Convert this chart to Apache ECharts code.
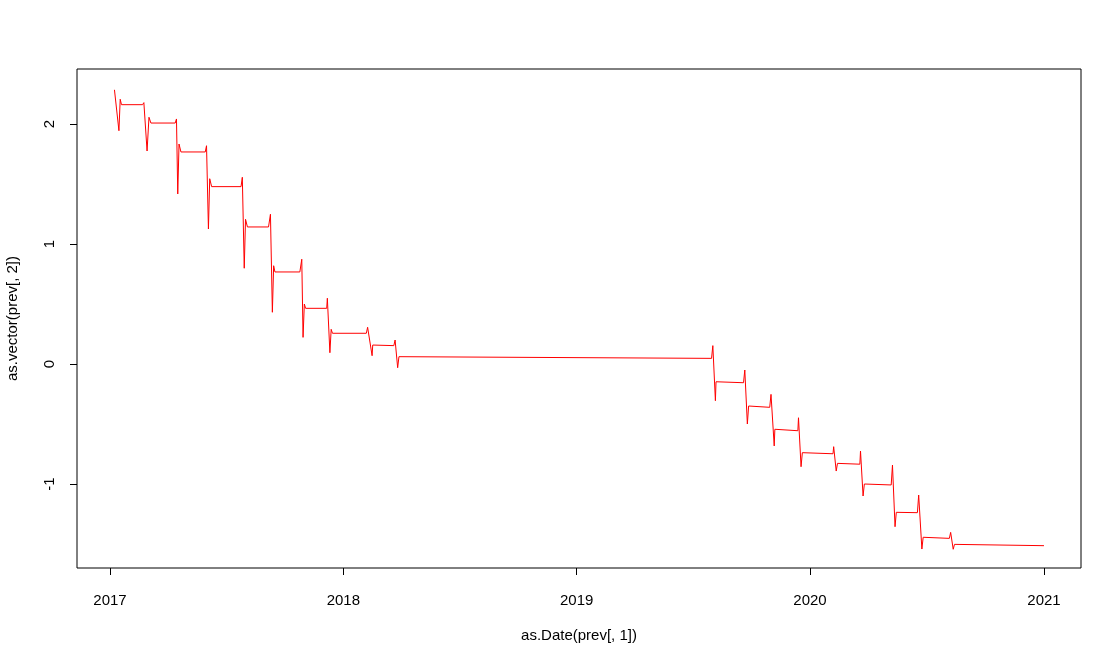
<!DOCTYPE html>
<html>
<head>
<meta charset="utf-8">
<script src="https://cdn.jsdelivr.net/npm/echarts@6/dist/echarts.min.js"></script>
<style>
html,body{margin:0;padding:0;background:#fff;}
#chart{width:1101px;height:653px;}
</style>
</head>
<body>
<div id="chart"></div>
<script>
// ---- data ----
const dates = [
'2017-01-08','2017-01-11','2017-01-15','2017-01-17','2017-01-19',
'2017-02-21','2017-02-23','2017-02-28','2017-03-03','2017-03-06',
'2017-04-13','2017-04-15','2017-04-17','2017-04-19','2017-04-22',
'2017-05-30','2017-06-01','2017-06-04','2017-06-06','2017-06-09',
'2017-07-25','2017-07-27','2017-07-30','2017-08-01','2017-08-04',
'2017-09-06','2017-09-09','2017-09-12','2017-09-14','2017-09-16',
'2017-10-25','2017-10-28','2017-10-30','2017-11-01','2017-11-03',
'2017-12-06','2017-12-07','2017-12-11','2017-12-13','2017-12-15',
'2018-02-06','2018-02-08','2018-02-15','2018-02-16','2018-02-18',
'2018-03-21','2018-03-23','2018-03-27','2018-03-29','2018-03-30',
'2019-07-31','2019-08-02','2019-08-06','2019-08-07','2019-08-09',
'2019-09-19','2019-09-21','2019-09-25','2019-09-27','2019-09-29',
'2019-10-30','2019-11-01','2019-11-06','2019-11-07','2019-11-09',
'2019-12-13','2019-12-14','2019-12-18','2019-12-20','2019-12-22',
'2020-02-06','2020-02-07','2020-02-11','2020-02-13','2020-02-15',
'2020-03-19','2020-03-20','2020-03-24','2020-03-26','2020-03-28',
'2020-05-07','2020-05-09','2020-05-13','2020-05-15','2020-05-17',
'2020-06-17','2020-06-19','2020-06-24','2020-06-26','2020-06-28',
'2020-08-06','2020-08-08','2020-08-12','2020-08-14','2020-08-16',
'2021-01-01'
];
const values = [
2.285, 2.295, 1.944, 2.206, 2.161,
2.161, 2.178, 1.775, 2.056, 2.008,
2.008, 2.042, 1.417, 1.833, 1.767,
1.767, 1.819, 1.125, 1.544, 1.478,
1.478, 1.556, 0.798, 1.206, 1.142,
1.142, 1.248, 0.431, 0.819, 0.767,
0.767, 0.873, 0.222, 0.500, 0.464,
0.464, 0.548, 0.094, 0.289, 0.256,
0.256, 0.306, 0.069, 0.158, 0.153,
0.153, 0.200, -0.031, 0.061, 0.047,
0.047, 0.153, -0.306, -0.148, -0.156,
-0.156, -0.050, -0.500, -0.350, -0.361,
-0.361, -0.253, -0.683, -0.544, -0.556,
-0.556, -0.448, -0.856, -0.739, -0.748,
-0.748, -0.689, -0.892, -0.828, -0.835,
-0.835, -0.725, -1.100, -1.000, -1.008,
-1.008, -0.842, -1.356, -1.236, -1.239,
-1.239, -1.092, -1.542, -1.444, -1.453,
-1.453, -1.403, -1.544, -1.503, -1.514,
-1.514
];
const xTickYears = ['2017','2018','2019','2020','2021'];
const yTicks = [-1, 0, 1, 2];
const xTitle = 'as.Date(prev[, 1])';
const yTitle = 'as.vector(prev[, 2])';

// ---- build ----
const DAY = 86400000;
const toTs = s => { const p = s.split('-').map(Number); return Date.UTC(p[0], p[1]-1, p[2]); };
const seriesData = dates.map((d, i) => [toTs(d), values[i]]);
const xTickTs = xTickYears.map(y => Date.UTC(+y, 0, 1));
const xMin = Date.UTC(2017,0,1) - 51.6*DAY;
const xMax = Date.UTC(2021,0,1) + 57.9*DAY;

const font = 'Liberation Sans, Arial, Helvetica, sans-serif';
const chart = echarts.init(document.getElementById('chart'), null, {renderer:'canvas'});
chart.setOption({
  animation: false,
  backgroundColor: '#fff',
  grid: {left: 77, right: 20, top: 69, bottom: 85, show: true, borderColor: '#000', borderWidth: 1,
    backgroundColor: 'transparent', containLabel: false, outerBoundsMode: 'none'},
  xAxis: {
    type: 'value', min: xMin, max: xMax, scale: true,
    name: xTitle, nameLocation: 'middle', nameGap: 60,
    nameTextStyle: {color: '#000', fontSize: 15, fontFamily: font},
    axisLine: {show: false, onZero: false},
    splitLine: {show: false},
    axisTick: {show: true, length: 7, customValues: xTickTs, lineStyle: {color: '#000', width: 1}},
    axisLabel: {customValues: xTickTs, color: '#000', fontSize: 15, fontFamily: font, margin: 25,
      formatter: v => String(new Date(v).getUTCFullYear()), hideOverlap: false, showMinLabel: true, showMaxLabel: true}
  },
  yAxis: {
    type: 'value', min: -1.7, max: (364-69)/120,
    name: yTitle, nameLocation: 'middle', nameGap: 57, nameRotate: 90,
    nameTextStyle: {color: '#000', fontSize: 15, fontFamily: font},
    axisLine: {show: false, onZero: false},
    splitLine: {show: false},
    axisTick: {show: true, length: 7, customValues: yTicks, lineStyle: {color: '#000', width: 1}},
    axisLabel: {customValues: yTicks, color: '#000', fontSize: 15, fontFamily: font, margin: 20, rotate: 90,
      formatter: v => String(v)}
  },
  series: [{
    type: 'line', data: seriesData, showSymbol: false, symbol: 'none',
    lineStyle: {color: '#ff0000', width: 1}, silent: true
  }]
});
</script>
</body>
</html>
